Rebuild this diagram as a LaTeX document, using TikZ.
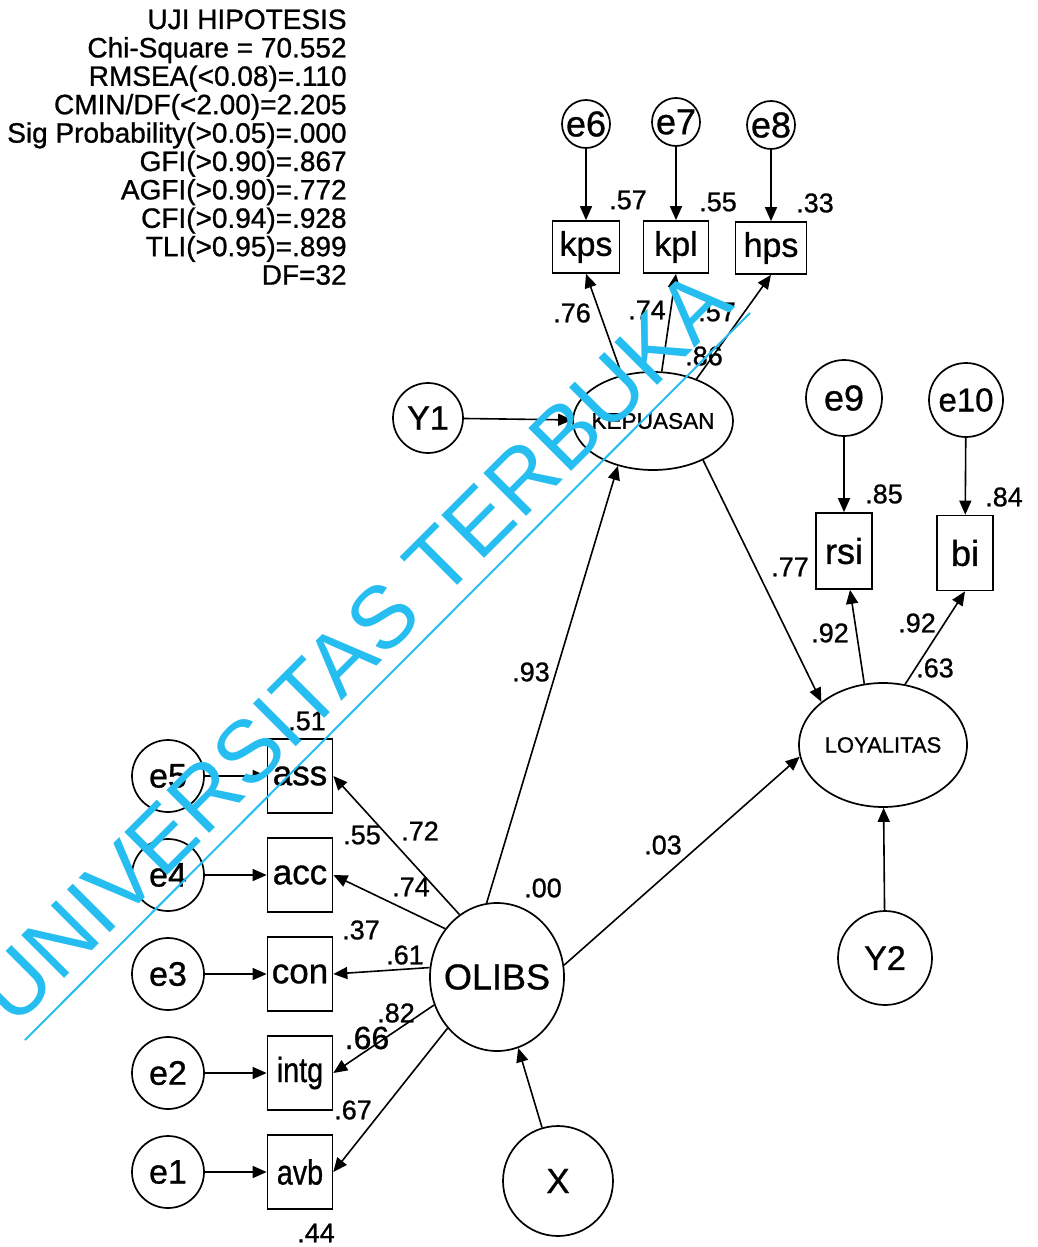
\documentclass[tikz,border=0pt]{standalone}
\usepackage{fontspec}
\setmainfont{Liberation Sans}[FakeBold=0.9]
\newfontfamily\wmfont{Liberation Sans}
\usetikzlibrary{arrows.meta,shapes.geometric,calc}
\definecolor{wmcol}{RGB}{38,190,240}
\newcommand\fsz[1]{\fontsize{#1}{#1}\selectfont}
\newcommand\zb[1]{\makebox[0pt]{#1}}
\begin{document}
\begin{tikzpicture}[x=0.5pt,y=-0.5pt,
  every node/.style={inner sep=0pt},
  lat/.style={draw,circle,line width=0.85pt,minimum size=#1},
  ell/.style 2 args={draw,ellipse,line width=0.85pt,minimum width=#1,minimum height=#2},
  obs/.style 2 args={draw,rectangle,line width=0.85pt,minimum width=#1,minimum height=#2},
  arr/.style={line width=0.8pt,-{Triangle[length=7pt,width=6pt]}},
  lab/.style={font=\fsz{13.5}},
  stat/.style={font=\fsz{14}, anchor=base east},
]
\useasboundingbox (0,0) rectangle (1038,1247);
\fill[white] (0,0) rectangle (1038,1247);
\clip (0,0) rectangle (1038,1247);

% statistics block
\foreach \t [count=\i from 0] in {UJI HIPOTESIS, Chi-Square = 70.552, RMSEA(<0.08)=.110, CMIN/DF(<2.00)=2.205, Sig Probability(>0.05)=.000, GFI(>0.90)=.867, AGFI(>0.90)=.772, CFI(>0.94)=.928, TLI(>0.95)=.899, DF=32}
  \node[stat] (st\i) at (347,{29+28.4*\i}) {\t};

% latent variables
\node[ell={80pt}{49pt}, label={[font=\fsz{11.3}]center:KEPUASAN}] (kep) at (653,421) {};
\node[ell={84pt}{62pt}, label={[font=\fsz{11}]center:LOYALITAS}] (loy) at (883,745) {};
\node[ell={67pt}{74pt}, label={[font=\fsz{18}]center:OLIBS}] (olibs) at (497,977) {};

% disturbances / exogenous
\node[lat=35pt, font=\fsz{17}] (y1) at (428,418) {\zb{Y1}};
\node[lat=47pt, font=\fsz{17}] (y2) at (885,958) {\zb{Y2}};
\node[lat=55pt, font=\fsz{17.5}] (x) at (558,1181) {\zb{X}};

% top indicators
\node[lat=24pt, font=\fsz{18}] (e6) at (586,124) {\zb{e6}};
\node[lat=24pt, font=\fsz{18}] (e7) at (676,122) {\zb{e7}};
\node[lat=24pt, font=\fsz{18}] (e8) at (771,125) {\zb{e8}};
\node[obs={33.5pt}{26pt}, font=\fsz{17}] (kps) at (586,247) {\zb{kps}};
\node[obs={32.5pt}{26pt}, font=\fsz{17}] (kpl) at (676,247) {\zb{kpl}};
\node[obs={35.5pt}{26pt}, font=\fsz{17}] (hps) at (771,248) {\zb{hps}};

% right indicators
\node[lat=38pt, font=\fsz{18}] (e9) at (844,398) {\zb{e9}};
\node[lat=37pt, font=\fsz{16.5}] (e10) at (966,400) {\zb{e10}};
\node[obs={28pt}{38pt}, font=\fsz{18}] (rsi) at (844,551) {\zb{rsi}};
\node[obs={28pt}{37.5pt}, font=\fsz{18}] (bi) at (965,553) {\zb{bi}};

% left indicators
\foreach \e/\yy in {e5/776, e4/875, e3/974, e2/1073, e1/1172}{
  \node[lat=36pt, font=\fsz{17}] (\e) at (168,\yy) {\zb{\e}};
}
\node[obs={32.5pt}{37pt}, font=\fsz{17.5}] (ass) at (300,776) {\zb{ass}};
\node[obs={32.5pt}{37pt}, font=\fsz{17.5}] (acc) at (300,875) {\zb{acc}};
\node[obs={32.5pt}{37pt}, font=\fsz{17.5}] (con) at (300,974) {\zb{con}};
\node[obs={32.5pt}{37pt}, font=\fsz{17.5}] (intg) at (300,1073) {\zb{\scalebox{0.82}[1]{intg}}};
\node[obs={32.5pt}{37pt}, font=\fsz{17.5}] (avb) at (300,1172) {\zb{\scalebox{0.82}[1]{avb}}};

% connectors
\draw[arr] (e6) -- (kps);
\draw[arr] (e7) -- (kpl);
\draw[arr] (e8) -- (hps);
\draw[arr] (kep.124) -- (kps.south);
\draw[arr] (kep.80) -- (kpl.south);
\draw[arr] (kep.44) -- (hps.south);
\draw[arr] (y1) -- (kep);
\draw[arr] (olibs.98) -- (kep.232);
\draw[arr] (kep.322) -- (loy.145);
\draw[arr] (olibs.10) -- (loy.188);
\draw[arr] (e9) -- (rsi);
\draw[arr] (e10) -- (bi);
\draw[arr] (loy.107) -- ([xshift=3pt]rsi.south);
\draw[arr] (loy.70) -- (bi.south);
\draw[arr] (y2) -- (loy);
\draw[arr] (x) -- (olibs);
\foreach \e/\b in {e5/ass, e4/acc, e3/con, e2/intg, e1/avb}
  \draw[arr] (\e) -- (\b);
\draw[arr] (olibs.121) -- (ass.east);
\draw[arr] (olibs.137) -- (acc.east);
\draw[arr] (olibs.172) -- (con.east);
\draw[arr] (olibs.204) -- (intg.east);
\draw[arr] (olibs.226) -- (avb.east);

% coefficient labels
\foreach \v/\px/\py [count=\k] in {
  .57/628/200, .55/718/202, .33/815/203,
  .76/572/313, .74/647/310, .57/717/312, .86/704/356,
  .85/884/494, .84/1004/497,
  .77/790/567, .92/830/633, .92/917/623, .63/935/668,
  .93/531/672, .03/663/845, .00/543/888,
  .51/307/721, .55/362/835, .72/420/831, .74/411/887,
  .37/361/930, .61/405/955, .82/396/1013, .67/353/1110, .44/316/1233}
  \node[lab] (lb\k) at (\px,\py) {\v};
\node[font=\fsz{16}] (lb66) at (367,1038) {.66};

% watermark
\node[rotate=45, anchor=base west, text=wmcol, font=\wmfont\fsz{44}] (wm) at (14,1029) {UNIVERSITAS TERBUKA};
\draw[wmcol, line width=1pt] (25,1040) -- (750,313);
\end{tikzpicture}
\end{document}
